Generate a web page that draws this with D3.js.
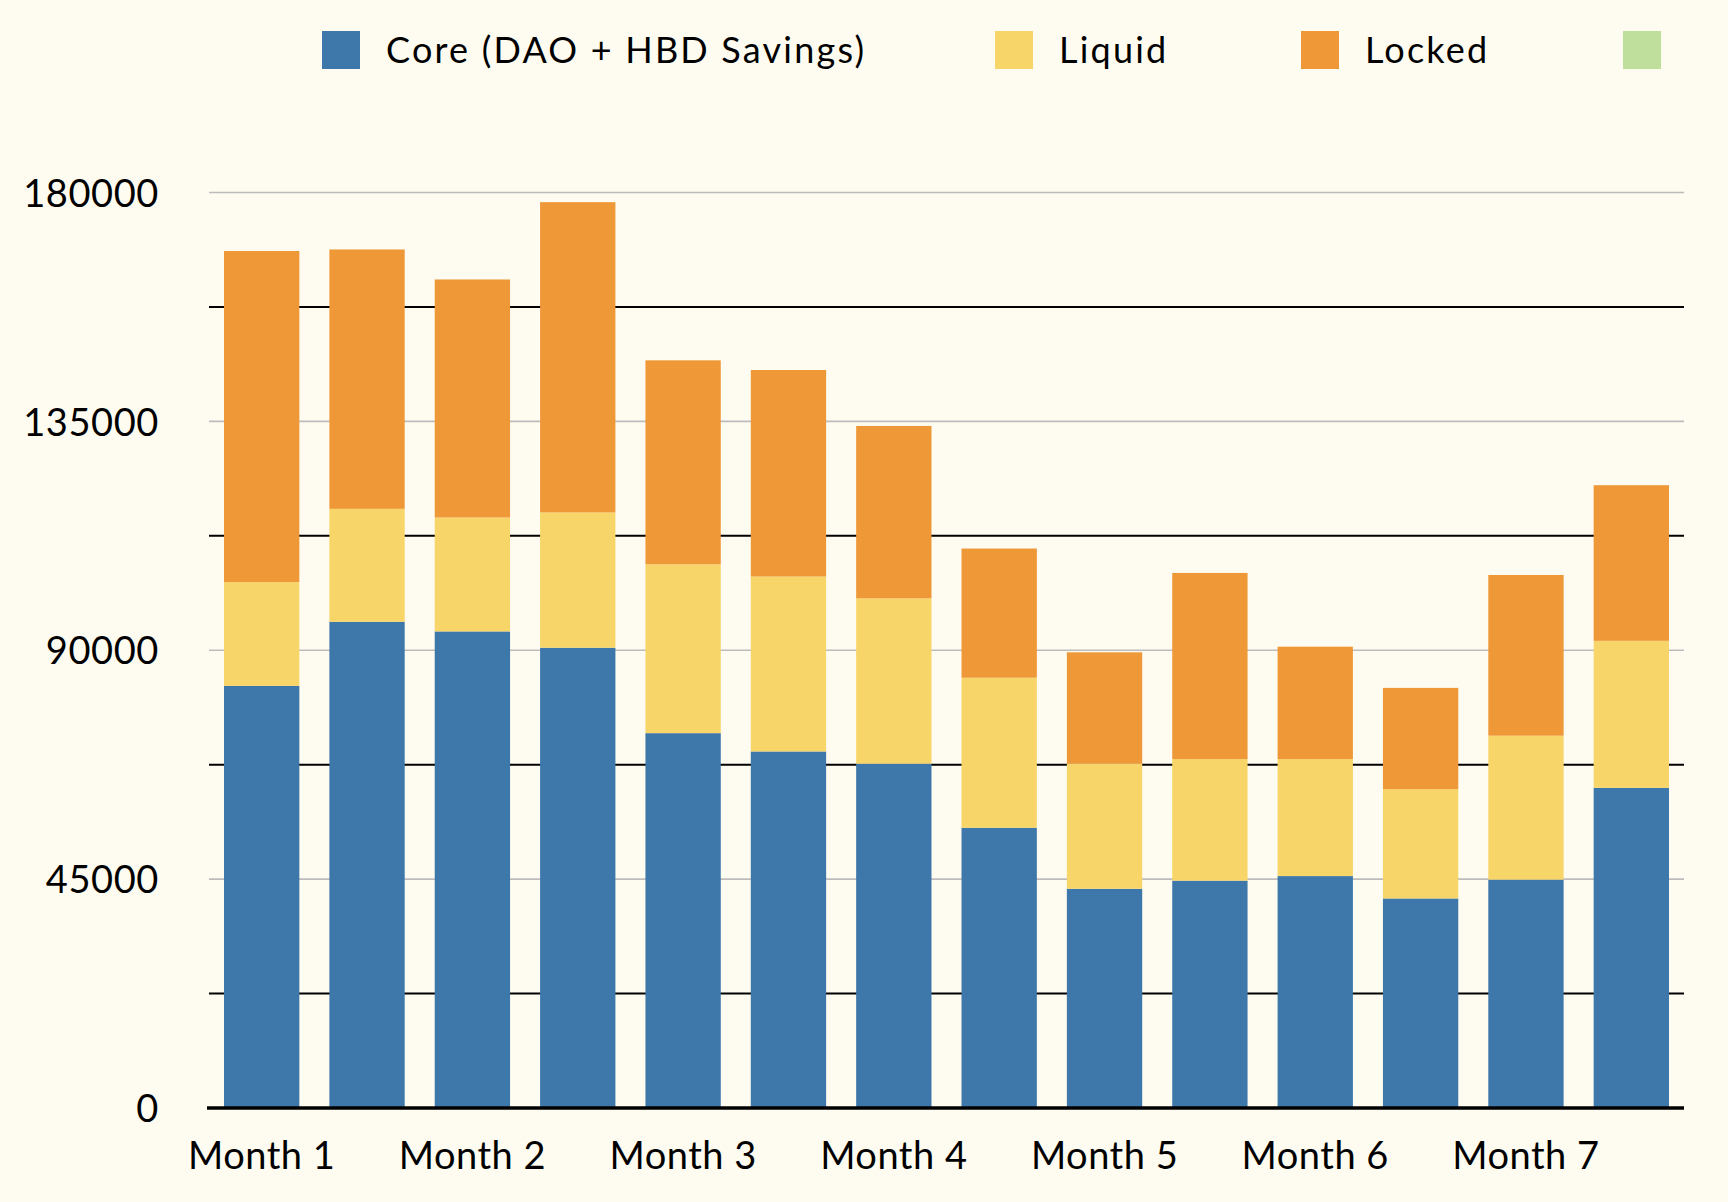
<!DOCTYPE html>
<html><head><meta charset="utf-8">
<script src="https://cdn.jsdelivr.net/npm/d3@7"></script>
<style>
html,body{margin:0;padding:0;background:#fefcf0;}
svg{display:block;}
text{font-family:Lato,"Noto Sans",sans-serif;fill:#000;}
</style></head>
<body>
<script>
// ---- data ----
const periods = ["P1","P2","P3","P4","P5","P6","P7","P8","P9","P10","P11","P12","P13","P14"];
const monthLabels = ["Month 1","","Month 2","","Month 3","","Month 4","","Month 5","","Month 6","","Month 7",""];
const seriesNames = ["Core (DAO + HBD Savings)","Liquid","Locked",""];
const core   = [83000, 95600, 93700, 90500, 73700, 70100, 67700, 55100, 43100, 44700, 45600, 41200, 44900, 62950];
const liquid = [20400, 22200, 22400, 26600, 33200, 34400, 32500, 29500, 24600, 23900, 23000, 21500, 28300, 28900];
const locked = [65100, 51000, 46800, 61000, 40100, 40600, 33900, 25400, 21900, 36600, 22100, 19900, 31600, 30600];
const extra  = [0,0,0,0,0,0,0,0,0,0,0,0,0,0];
const yTicks = [0, 45000, 90000, 135000, 180000];
const yMinor = [22500, 67500, 112500, 157500];
const colors = ["#3e78aa","#f8d568","#ef9838","#bfe09d"];

const W = 1728, H = 1202;
const svg = d3.select("body").append("svg").attr("width", W).attr("height", H);
svg.append("rect").attr("width", W).attr("height", H).attr("fill", "#fefcf0");

const x = d3.scaleBand().domain(periods).range([209, 1684]).paddingInner(0.285).paddingOuter(0.1425);
const y = d3.scaleLinear().domain([0, 180000]).range([1108, 192.5]);

// gridlines
svg.append("g").selectAll("line").data(yTicks.filter(d => d > 0)).join("line")
  .attr("x1", 209).attr("x2", 1684).attr("y1", d => y(d)).attr("y2", d => y(d))
  .attr("stroke", "#bcbcbc").attr("stroke-width", 1.6);
svg.append("g").selectAll("line").data(yMinor).join("line")
  .attr("x1", 209).attr("x2", 1684).attr("y1", d => y(d)).attr("y2", d => y(d))
  .attr("stroke", "#000").attr("stroke-width", 2);

// stacked bars
const rows = periods.map((p, i) => ({p, core: core[i], liquid: liquid[i], locked: locked[i], extra: extra[i]}));
const keys = ["core","liquid","locked","extra"];
const stack = d3.stack().keys(keys)(rows);
svg.append("g").selectAll("g").data(stack).join("g")
  .attr("fill", (d, i) => colors[i])
  .selectAll("rect").data(d => d).join("rect")
  .attr("x", d => x(d.data.p)).attr("width", x.bandwidth())
  .attr("y", d => y(d[1])).attr("height", d => y(d[0]) - y(d[1]));

// zero axis line
svg.append("line").attr("x1", 207).attr("x2", 1684).attr("y1", y(0)).attr("y2", y(0))
  .attr("stroke", "#000").attr("stroke-width", 3.5);

// y axis labels
const yAxis = d3.axisLeft(y).tickValues(yTicks).tickSize(0).tickPadding(0).tickFormat(d3.format("d"));
const gy = svg.append("g").attr("transform", "translate(159,0)").call(yAxis);
gy.select(".domain").remove();
gy.selectAll("text").attr("font-size", 38).attr("font-family", "Lato").attr("letter-spacing", 0.6)
  .attr("dy", "0.36em").attr("fill", "#000");

// x axis labels
const xAxis = d3.axisBottom(x).tickSize(0).tickPadding(0).tickFormat((d, i) => monthLabels[i]);
const gx = svg.append("g").attr("transform", "translate(0,1169)").call(xAxis);
gx.select(".domain").remove();
gx.selectAll("text").attr("font-size", 38).attr("font-family", "Lato").attr("letter-spacing", 0.5)
  .attr("dy", 0).attr("fill", "#000");

// legend
const legX = [322, 995, 1301, 1623];
const leg = svg.append("g").selectAll("g").data(seriesNames).join("g")
  .attr("transform", (d, i) => `translate(${legX[i]},31)`);
leg.append("rect").attr("width", 38).attr("height", 38).attr("fill", (d, i) => colors[i]);
leg.append("text").attr("x", 64).attr("y", 32).attr("font-size", 36).attr("letter-spacing", 2.2).text(d => d);
</script>
</body></html>
